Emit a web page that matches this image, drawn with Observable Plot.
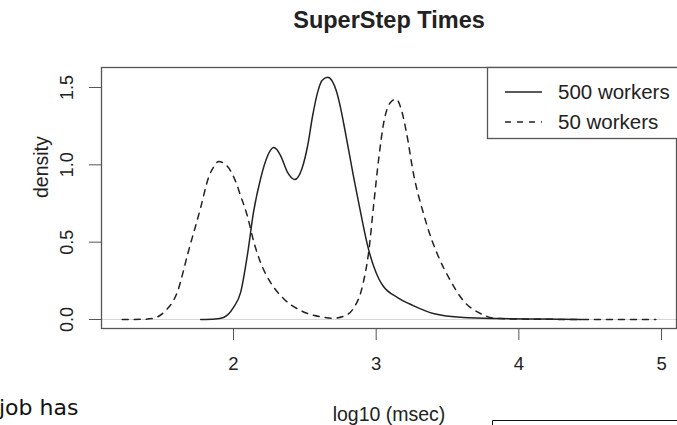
<!DOCTYPE html>
<html><head><meta charset="utf-8">
<script src="https://cdn.jsdelivr.net/npm/d3@7"></script>
<script src="https://cdn.jsdelivr.net/npm/@observablehq/plot@0.6"></script>
<style>
html,body{margin:0;padding:0;background:#fff;}
#wrap{position:relative;width:677px;height:425px;overflow:hidden;background:#fff;}
#wrap svg{display:block;}
#overlay{position:absolute;left:0;top:0;pointer-events:none;}
</style></head><body><div id="wrap"></div>
<script>
const title = "SuperStep Times";
const xLabel = "log10 (msec)";
const yLabel = "density";
const seriesNames = ["500 workers", "50 workers"];
const xTicks = [2, 3, 4, 5];
const xTickLabels = ["2", "3", "4", "5"];
const yTicks = [0, 0.5, 1, 1.5];
const yTickLabels = ["0.0", "0.5", "1.0", "1.5"];
const pageText = "job has";

const x500 = [1.77,1.87,1.93,2.00,2.05,2.10,2.14,2.19,2.24,2.26,2.28,2.305,2.33,2.38,2.43,2.48,2.52,2.555,2.59,2.62,2.66,2.69,2.72,2.75,2.78,2.81,2.84,2.87,2.90,2.94,2.98,3.02,3.05,3.15,3.26,3.40,3.61,3.87,4.15,4.44];
const y500 = [0,0.003,0.013,0.078,0.175,0.433,0.692,0.911,1.06,1.095,1.112,1.098,1.06,0.95,0.905,0.976,1.125,1.319,1.47,1.545,1.567,1.545,1.48,1.37,1.23,1.08,0.93,0.79,0.65,0.478,0.35,0.26,0.215,0.142,0.09,0.039,0.013,0.006,0.003,0];

const x50 = [1.22,1.35,1.43,1.51,1.61,1.68,1.77,1.825,1.86,1.895,1.94,1.98,2.02,2.05,2.10,2.14,2.19,2.26,2.35,2.47,2.63,2.70,2.77,2.84,2.905,2.947,2.982,3.018,3.053,3.10,3.14,3.172,3.21,3.263,3.33,3.38,3.43,3.52,3.61,3.73,3.85,4.08,4.58,4.96];
const y50 = [0,0.001,0.006,0.045,0.187,0.427,0.724,0.918,0.985,1.021,1.005,0.96,0.88,0.80,0.66,0.51,0.368,0.239,0.136,0.058,0.015,0.008,0.02,0.071,0.22,0.433,0.737,1.041,1.273,1.403,1.425,1.37,1.22,0.935,0.69,0.54,0.42,0.252,0.123,0.039,0.006,0.002,0,0];

const d500 = x500.map((x, i) => ({x, y: y500[i], s: seriesNames[0]}));
const d50 = x50.map((x, i) => ({x, y: y50[i], s: seriesNames[1]}));

const FONT = "'Liberation Sans', Arial, Helvetica, sans-serif";
const INK = "#222";
const DASH = "6,6";

const plot = Plot.plot({
  width: 677, height: 425,
  marginTop: 67, marginRight: 1, marginBottom: 97, marginLeft: 101,
  style: {fontFamily: FONT, background: "#fff", color: INK, overflow: "visible"},
  x: {domain: [1.0748, 5.105]},
  y: {domain: [-0.0582, 1.6293]},
  marks: [
    Plot.ruleY([0], {stroke: "#d6d6d6", strokeWidth: 1}),
    Plot.line(d500, {x: "x", y: "y", stroke: INK, strokeWidth: 1.5, curve: "monotone-x"}),
    Plot.line(d50, {x: "x", y: "y", stroke: INK, strokeWidth: 1.5, strokeDasharray: DASH, curve: "monotone-x"}),
    Plot.frame({stroke: "#555", strokeWidth: 1.3}),
    Plot.axisX({ticks: xTicks, tickFormat: (d) => xTickLabels[xTicks.indexOf(d)], tickSize: 12, tickPadding: 16, fontSize: 18.5, stroke: "#555", fill: INK, label: null}),
    Plot.axisY({ticks: yTicks, tickFormat: (d) => yTickLabels[yTicks.indexOf(d)], tickRotate: -90, tickSize: 12, tickPadding: 17, fontSize: 18, stroke: "#555", fill: INK, label: null}),
    Plot.text([xLabel], {frameAnchor: "bottom", dy: 92, lineAnchor: "bottom", fontSize: 19.5, fill: INK}),
    Plot.text([yLabel], {frameAnchor: "left", dx: -54, rotate: -90, lineAnchor: "bottom", fontSize: 19.5, fill: INK}),
    Plot.text([title], {frameAnchor: "top", dy: -40, lineAnchor: "bottom", fontSize: 23.5, fontWeight: "bold", fill: INK})
  ]
});
const wrap = document.getElementById("wrap");
wrap.appendChild(plot);

// Legend and surrounding page fragments (overlay)
const svg = d3.select(wrap).append("svg").attr("id", "overlay").attr("width", 677).attr("height", 425);
const lg = svg.append("g");
lg.append("rect").attr("x", 487.5).attr("y", 67.5).attr("width", 260).attr("height", 71)
  .attr("fill", "#fff").attr("stroke", "#555").attr("stroke-width", 1.3);
const styles = [null, DASH];
seriesNames.forEach((name, i) => {
  const yy = 92 + i * 30;
  lg.append("line").attr("x1", 505).attr("x2", 542).attr("y1", yy).attr("y2", yy)
    .attr("stroke", INK).attr("stroke-width", 1.3).attr("stroke-dasharray", styles[i]);
  lg.append("text").attr("x", 558).attr("y", yy).attr("dy", "0.35em")
    .attr("font-family", FONT).attr("font-size", 20.5).attr("fill", INK).text(name);
});
svg.append("text").attr("x", -1).attr("y", 415).attr("font-family", "'DejaVu Sans', sans-serif")
  .attr("font-size", 22).attr("fill", "#111").text(pageText);
svg.append("path").attr("d", "M492.5,426V420.5H678").attr("fill", "none").attr("stroke", "#111").attr("stroke-width", 1);
</script></body></html>
